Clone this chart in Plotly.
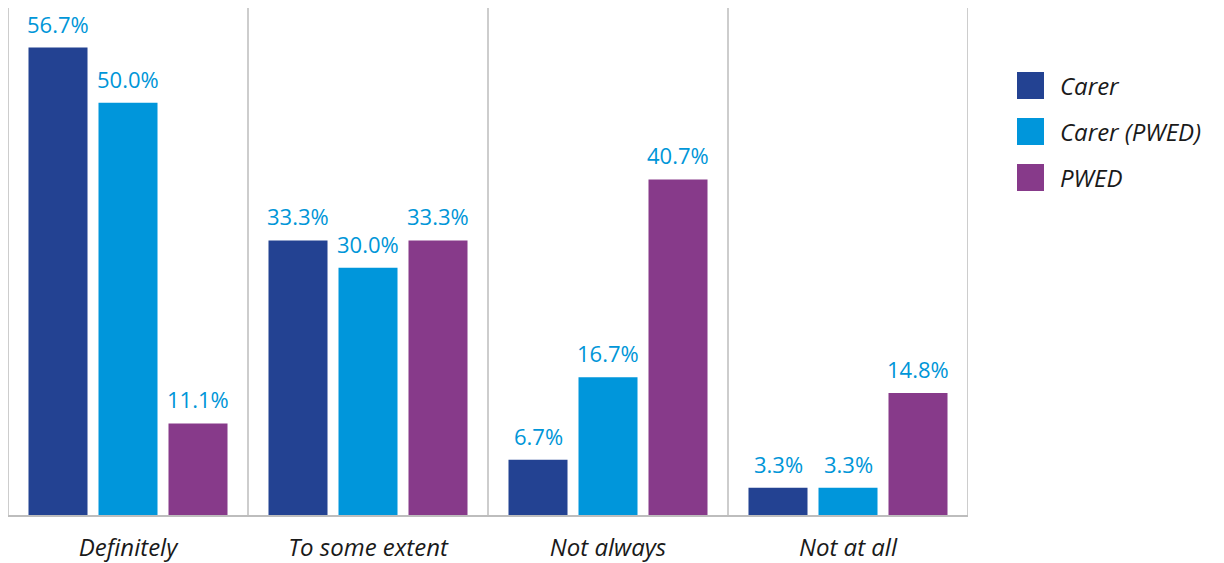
import plotly.graph_objects as go

categories = ["Definitely", "To some extent", "Not always", "Not at all"]
series_names = ["Carer", "Carer (PWED)", "PWED"]
carer = [56.7, 33.3, 6.7, 3.3]
carer_pwed = [50.0, 30.0, 16.7, 3.3]
pwed = [11.1, 33.3, 40.7, 14.8]
series_values = [carer, carer_pwed, pwed]
colors = ["#234292", "#0096DB", "#873A8A"]

W, H = 1224, 563
OFF = 8  # page body margin offset
ML, MR, MT, MB = 0, 264, 0, 56
BARGAP = 0.125
BARGROUPGAP = 0.157
FONT = "Open Sans"
LABEL_COLOR = "#0096D8"
GRID = "#BDBDBD"

x_idx = list(range(len(categories)))
fig = go.Figure()
for name, vals, col in zip(series_names, series_values, colors):
    fig.add_trace(go.Bar(x=x_idx, y=vals, name=name, marker_color=col,
                         marker_line_width=0, showlegend=False))

# data labels above bars
n = len(series_names)
slot = (1 - BARGAP) / n
annotations = []
for j, vals in enumerate(series_values):
    for i, v in enumerate(vals):
        annotations.append(dict(x=i + (j - (n - 1) / 2) * slot, y=v, xref="x", yref="y",
                                text=f"{v:.1f}%", showarrow=False, yanchor="bottom",
                                yshift=7, font=dict(family=FONT, size=22, color=LABEL_COLOR)))

# separators
shapes = []
for b in [i - 0.5 for i in range(len(categories) + 1)]:
    shapes.append(dict(type="line", xref="x", yref="paper", x0=b, x1=b, y0=0, y1=1,
                       line=dict(color=GRID, width=1.5)))

# legend drawn manually (positions in screen pixels)
pw = W - ML - MR
ph = H - MT - MB
def px(p):
    return (p - OFF - ML) / pw
def py(p):
    return (H - MB - (p - OFF)) / ph
row_centers = [85.5, 131.5, 177.5]
for name, col, yc in zip(series_names, colors, row_centers):
    shapes.append(dict(type="rect", xref="paper", yref="paper",
                       x0=px(1017), x1=px(1044), y0=py(yc + 13.5), y1=py(yc - 13.5),
                       fillcolor=col, line=dict(width=0)))
    annotations.append(dict(x=px(1058), y=py(yc), xref="paper", yref="paper", text=f"<i>{name}</i>",
                            showarrow=False, xanchor="left", yanchor="middle",
                            font=dict(family=FONT, size=24, color="#1A1A1A")))

fig.update_layout(
    width=W, height=H, margin=dict(l=ML, r=MR, t=MT, b=MB),
    barmode="group", bargap=BARGAP, bargroupgap=BARGROUPGAP,
    plot_bgcolor="white", paper_bgcolor="white",
    annotations=annotations, shapes=shapes,
    xaxis=dict(range=[-0.5, len(categories) - 0.5], tickvals=x_idx,
               ticktext=[f"<i>{c}</i>" for c in categories],
               tickfont=dict(family=FONT, size=24, color="#1A1A1A"),
               showgrid=False, zeroline=False, showline=True, linecolor=GRID, linewidth=1.5,
               ticks="outside", ticklen=10, tickcolor="rgba(0,0,0,0)"),
    yaxis=dict(range=[0, 61.5], visible=False, showgrid=False),
)

fig.write_html("out.html")
